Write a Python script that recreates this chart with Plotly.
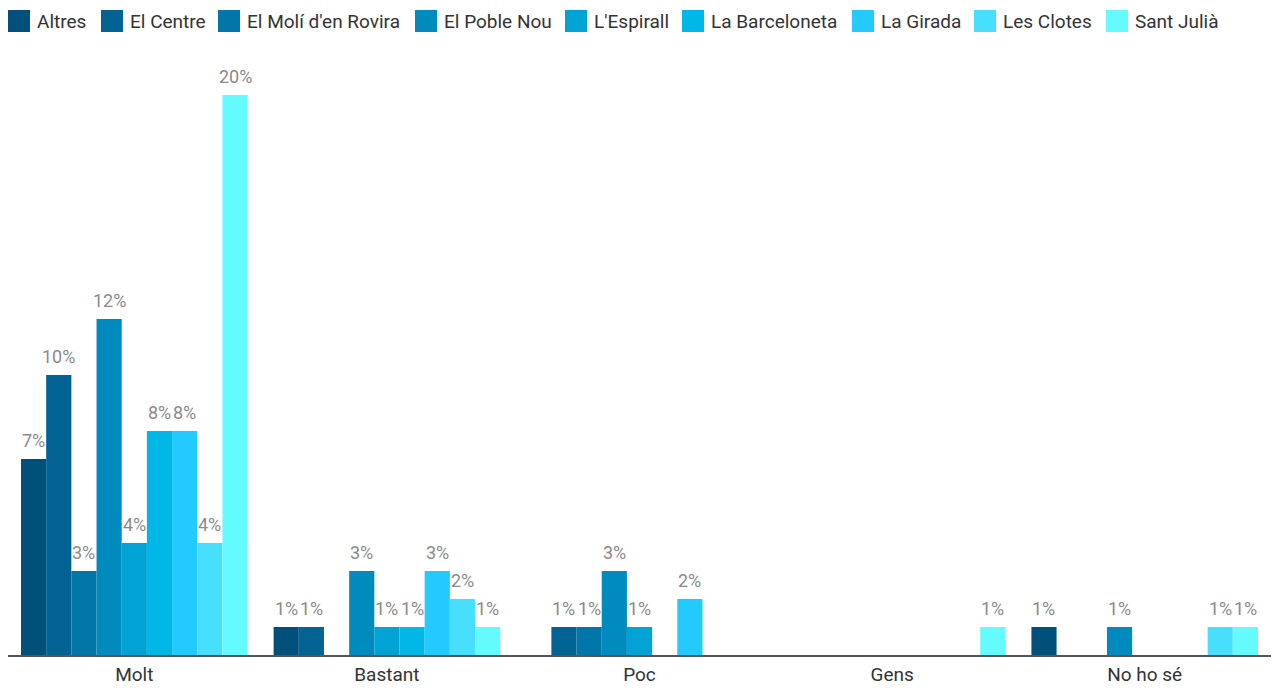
import plotly.graph_objects as go

categories = ["Molt", "Bastant", "Poc", "Gens", "No ho sé"]
series_names = ["Altres", "El Centre", "El Molí d'en Rovira", "El Poble Nou", "L'Espirall",
                "La Barceloneta", "La Girada", "Les Clotes", "Sant Julià"]
values = {
    "Altres":              [7, 1, 0, 0, 1],
    "El Centre":           [10, 1, 1, 0, 0],
    "El Molí d'en Rovira": [3, 0, 1, 0, 0],
    "El Poble Nou":        [12, 3, 3, 0, 1],
    "L'Espirall":          [4, 1, 1, 0, 0],
    "La Barceloneta":      [8, 1, 0, 0, 0],
    "La Girada":           [8, 3, 2, 0, 0],
    "Les Clotes":          [4, 2, 0, 0, 1],
    "Sant Julià":          [20, 1, 0, 1, 1],
}
colors = ["#00507c", "#006393", "#0077a8", "#008bbe", "#00a3d3", "#00b8e8",
          "#22caff", "#48dfff", "#64fbff"]

# layout constants (pixels)
W, H = 1271, 680
ML, MR, MT, MB = 0, 8, 42, 33
PLOT_W = W - ML - MR
BARGAP = 0.103
BAR_W = PLOT_W / len(categories) * (1 - BARGAP) / len(series_names)
LEGEND_X = [0, 93, 210, 407, 557, 674, 844, 966, 1098]   # legend square left edges
LEGEND_TOP, LEGEND_SQ = 2, 22

FONT = "Roboto, 'Noto Sans', sans-serif"

fig = go.Figure()
annotations = []
shapes = []
n = len(series_names)
for k, (name, col) in enumerate(zip(series_names, colors)):
    vals = values[name]
    ys = [v if v else None for v in vals]
    fig.add_trace(go.Bar(
        x=categories, y=ys, name=name, marker=dict(color=col, line=dict(width=0)),
        showlegend=False, hoverinfo="skip",
    ))
    for cat, v in zip(categories, vals):
        if v:
            annotations.append(dict(
                x=cat, y=v, xref="x", yref="y", text=f"{v}%", showarrow=False,
                xanchor="center", yanchor="bottom", xshift=(k - (n - 1) / 2) * BAR_W,
                yshift=6, font=dict(color="#8a8a8a", size=18, family=FONT),
            ))
    # legend entry
    lx = LEGEND_X[k]
    shapes.append(dict(
        type="rect", xref="paper", yref="paper", xsizemode="pixel", ysizemode="pixel",
        xanchor=0, yanchor=1, x0=lx - ML, x1=lx - ML + LEGEND_SQ,
        y0=MT - LEGEND_TOP - LEGEND_SQ, y1=MT - LEGEND_TOP,
        fillcolor=col, line=dict(width=0),
    ))
    annotations.append(dict(
        x=0, y=1, xref="paper", yref="paper", text=name, showarrow=False,
        xanchor="left", yanchor="middle", xshift=lx - ML + LEGEND_SQ + 5,
        yshift=MT - LEGEND_TOP - LEGEND_SQ / 2,
        font=dict(color="#333333", size=19, family=FONT),
    ))

fig.update_layout(
    width=W, height=H,
    margin=dict(l=ML, r=MR, t=MT, b=MB, autoexpand=False),
    paper_bgcolor="white", plot_bgcolor="white",
    barmode="group", bargap=BARGAP, bargroupgap=0,
    font=dict(family=FONT, size=19, color="#333333"),
    showlegend=False,
    annotations=annotations, shapes=shapes,
    xaxis=dict(showgrid=False, showline=True, linecolor="#555555", linewidth=1.5,
               ticks="", tickfont=dict(size=19, color="#333333"), fixedrange=True,
               ticklabelstandoff=1),
    yaxis=dict(range=[0, (H - MT - MB) / 28], showgrid=False, showticklabels=False,
               zeroline=False, showline=False, ticks="", fixedrange=True),
)
fig.write_html("out.html")
